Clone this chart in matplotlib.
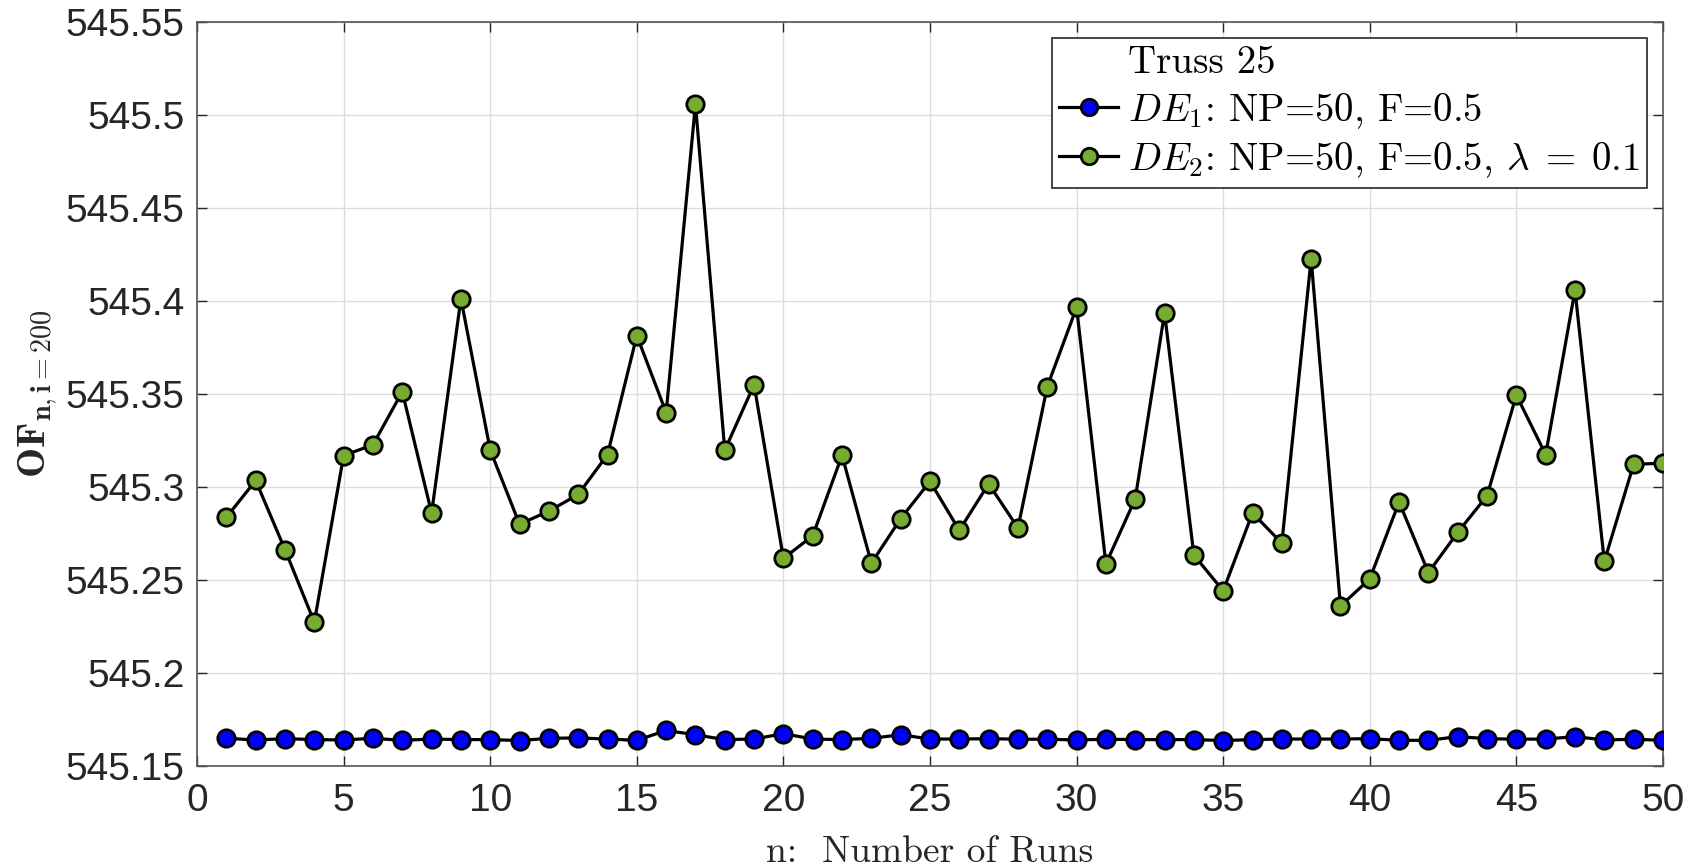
import matplotlib
matplotlib.use("Agg")
import matplotlib.pyplot as plt
from matplotlib.ticker import FuncFormatter, FixedLocator

runs = list(range(1, 51))
de1 = [545.1649, 545.1640, 545.1647, 545.1642, 545.1640, 545.1649, 545.1638, 545.1645, 545.1642, 545.1642,
       545.1637, 545.1649, 545.1651, 545.1645, 545.1638, 545.1691, 545.1668, 545.1642, 545.1645, 545.1674,
       545.1645, 545.1642, 545.1649, 545.1668, 545.1645, 545.1645, 545.1647, 545.1644, 545.1644, 545.1640,
       545.1644, 545.1642, 545.1642, 545.1642, 545.1637, 545.1642, 545.1645, 545.1645, 545.1645, 545.1647,
       545.1638, 545.1638, 545.1658, 545.1647, 545.1644, 545.1645, 545.1658, 545.1640, 545.1644, 545.1638]
de2 = [545.2837, 545.3035, 545.2663, 545.2273, 545.3169, 545.3227, 545.3512, 545.2860, 545.4012, 545.3198,
       545.2800, 545.2870, 545.2960, 545.3174, 545.3814, 545.3400, 545.5058, 545.3198, 545.3550, 545.2616,
       545.2738, 545.3170, 545.2590, 545.2830, 545.3030, 545.2767, 545.3017, 545.2780, 545.3540, 545.3965,
       545.2587, 545.2936, 545.3936, 545.2634, 545.2442, 545.2860, 545.2698, 545.4227, 545.2360, 545.2506,
       545.2919, 545.2540, 545.2756, 545.2953, 545.3494, 545.3174, 545.4058, 545.2600, 545.3122, 545.3128]
yticks = [545.15, 545.2, 545.25, 545.3, 545.35, 545.4, 545.45, 545.5, 545.55]
xticks = [0, 5, 10, 15, 20, 25, 30, 35, 40, 45, 50]
label1 = r'$DE_1$: NP=50, F=0.5'
label2 = r'$DE_2$: NP=50, F=0.5, $\lambda\;=\;0.1$'
legend_title = 'Truss 25'
xlabel = 'n:  Number of Runs'
ylabel = r'$\mathbf{OF}_{\mathbf{n,i=200}}$'

plt.rcParams['mathtext.fontset'] = 'cm'
plt.rcParams['font.family'] = ['Liberation Sans', 'DejaVu Sans']
plt.rcParams['axes.unicode_minus'] = False

fig = plt.figure(figsize=(16.9, 8.68), dpi=100)
ax = fig.add_axes([0.1166, 0.1175, 0.8674, 0.8572])

green = '#77AC30'
ax.plot([], [], ' ', label=legend_title)
ax.plot(runs, de1, '-o', color='black', lw=2.3, markersize=12.5, markerfacecolor='#0000FF',
        markeredgecolor='black', markeredgewidth=2.0, label=label1, zorder=3)
ax.plot(runs, de2, '-o', color='black', lw=2.3, markersize=12.5, markerfacecolor=green,
        markeredgecolor='black', markeredgewidth=2.0, label=label2, zorder=3)

ax.set_xlim(0, 50)
ax.set_ylim(545.15, 545.55)
ax.xaxis.set_major_locator(FixedLocator(xticks))
ax.yaxis.set_major_locator(FixedLocator(yticks))
ax.yaxis.set_major_formatter(FuncFormatter(lambda v, p: (f'{v:.2f}').rstrip('0').rstrip('.')))
ax.grid(True, color='#dcdcdc', lw=1.0)
ax.set_axisbelow(True)
ax.tick_params(direction='in', length=7, width=1.0, top=True, right=True,
               labelsize=28, colors='#262626')
ax.tick_params(axis='x', pad=12)
ax.tick_params(axis='y', pad=9)
for s in ax.spines.values():
    s.set_color('#555555')
    s.set_linewidth(1.2)

ax.set_xlabel(xlabel, fontsize=27, family='cmr10', labelpad=12, color='#262626')
ax.set_ylabel(ylabel, fontsize=29, labelpad=4, color='#262626')

leg = ax.legend(loc='upper right', prop={'family': 'cmr10', 'size': 28}, frameon=True, fancybox=False,
                edgecolor='#262626', framealpha=1, borderpad=0.2, labelspacing=0.25, handlelength=1.5,
                handletextpad=0.25, borderaxespad=0.4, markerscale=0.95)
leg.get_frame().set_linewidth(1.2)

fig.savefig('out.png', dpi=100)
